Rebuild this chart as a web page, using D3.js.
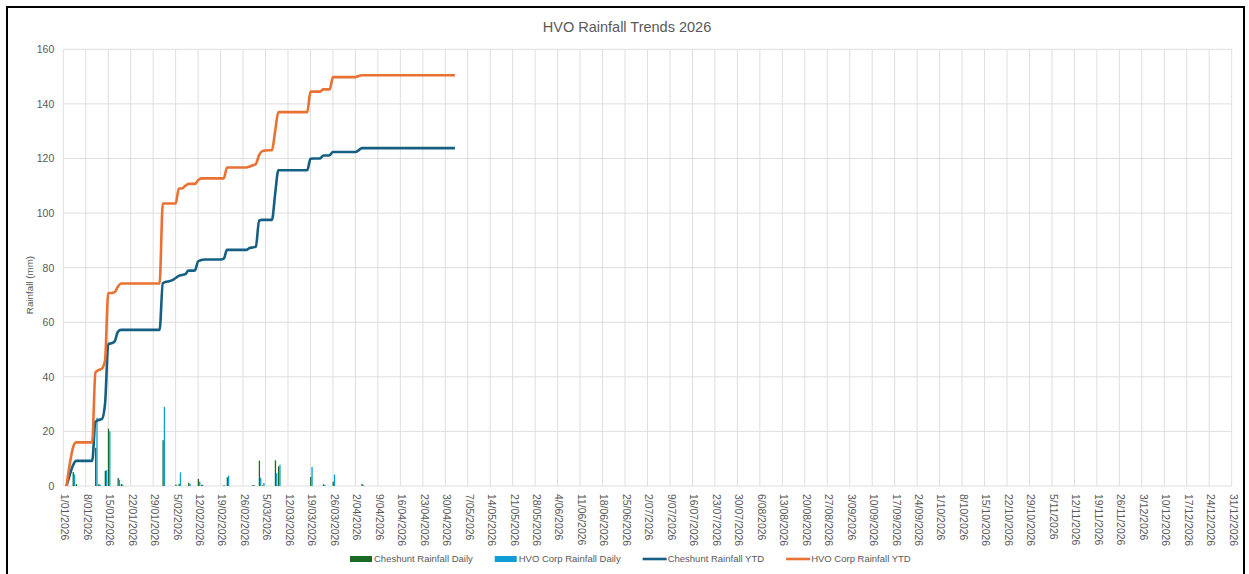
<!DOCTYPE html>
<html>
<head>
<meta charset="utf-8">
<title>HVO Rainfall Trends 2026</title>
<script src="https://cdn.jsdelivr.net/npm/d3@7"></script>
<style>
    body { margin: 0; background: #ffffff; }
    text { font-family: "Liberation Sans", Arial, sans-serif; fill: #595959; }
</style>
</head>
<body>
<div id="chart"></div>
<script>
// Series names (legend order)
const seriesNames = ["Cheshunt Rainfall Daily", "HVO Corp Rainfall Daily", "Cheshunt Rainfall YTD", "HVO Corp Rainfall YTD"];
const seriesColors = ["#196B24", "#0F9ED5", "#156082", "#E97132"];

// Axis range and y ticks
const axisStart = "2026-01-01";
const axisEnd = "2026-12-31";
const yTicks = [0, 20, 40, 60, 80, 100, 120, 140, 160];

// YTD series: one value per day, starting on 2/01/2026
const ytdStart = "2026-01-02";
const cheshuntYtd = [
    0, 4, 7.5, 9.2, 9.2, 9.2, 9.2, 9.2, 9.2, 23.5,
    24.2, 24.5, 30, 52, 52.3, 53, 56.5, 57.2, 57.2, 57.2,
    57.2, 57.2, 57.2, 57.2, 57.2, 57.2, 57.2, 57.2, 57.2, 57.2,
    74.3, 74.8, 75, 75.4, 76.2, 77, 77.3, 77.6, 78.9, 78.9,
    79, 82.3, 82.8, 83, 83, 83, 83, 83, 83, 83.3,
    86.5, 86.5, 86.5, 86.5, 86.5, 86.5, 86.5, 87.2, 87.4, 87.7,
    97.3, 97.5, 97.5, 97.5, 97.5, 107, 115.7, 115.7, 115.7, 115.7,
    115.7, 115.7, 115.7, 115.7, 115.7, 115.7, 119.9, 120, 120, 120,
    121.1, 121.1, 121.2, 122.4, 122.4, 122.4, 122.4, 122.4, 122.4, 122.4,
    122.4, 123, 123.8, 123.8, 123.8, 123.8, 123.8, 123.8, 123.8, 123.8,
    123.8, 123.8, 123.8, 123.8, 123.8, 123.8, 123.8, 123.8, 123.8, 123.8,
    123.8, 123.8, 123.8, 123.8, 123.8, 123.8, 123.8, 123.8, 123.8, 123.8,
    123.8, 123.8
];
const hvoYtd = [
    0, 8, 14, 16, 16, 16, 16, 16, 16, 41.5,
    42.5, 43, 46, 70.7, 70.7, 71, 73, 74.2, 74.2, 74.2,
    74.2, 74.2, 74.2, 74.2, 74.2, 74.2, 74.2, 74.2, 74.2, 74.2,
    103.5, 103.5, 103.5, 103.5, 103.5, 109, 109, 110, 110.7, 110.7,
    110.7, 112, 112.7, 112.7, 112.7, 112.7, 112.7, 112.7, 112.7, 112.7,
    116.7, 116.7, 116.7, 116.7, 116.7, 116.7, 116.7, 117, 117.5, 118,
    121.2, 122.7, 122.9, 123, 123, 130, 137, 137, 137, 137,
    137, 137, 137, 137, 137, 137, 144.5, 144.5, 144.5, 144.5,
    145.3, 145.3, 145.3, 149.8, 149.8, 149.8, 149.8, 149.8, 149.8, 149.8,
    149.8, 150.2, 150.5, 150.5, 150.5, 150.5, 150.5, 150.5, 150.5, 150.5,
    150.5, 150.5, 150.5, 150.5, 150.5, 150.5, 150.5, 150.5, 150.5, 150.5,
    150.5, 150.5, 150.5, 150.5, 150.5, 150.5, 150.5, 150.5, 150.5, 150.5,
    150.5, 150.5
];

// Daily rainfall (only the days with rain)
const rainDates = [
    "2026-01-04", "2026-01-05", "2026-01-11", "2026-01-12", "2026-01-14", "2026-01-15",
    "2026-01-18", "2026-01-19", "2026-02-01", "2026-02-05", "2026-02-06", "2026-02-09",
    "2026-02-12", "2026-02-13", "2026-02-20", "2026-02-21", "2026-03-01", "2026-03-03",
    "2026-03-04", "2026-03-08", "2026-03-09", "2026-03-19", "2026-03-23", "2026-03-26",
    "2026-04-04"
];
const cheshuntDaily = [5.1, 0.7, 14, 0.7, 5.6, 21, 2.9, 0.7, 16.8, 0.5, 0.8, 1.2, 2.6, 0.5, 0.3, 3.2, 0.4, 9.3, 0.2, 9.4, 7.2, 3.3, 0.6, 1.6, 0.8];
const hvoDaily = [4.3, 0, 25, 0.4, 5.8, 20, 2.3, 0.5, 29, 0, 5, 0.8, 1.6, 0.4, 0, 3.8, 0.3, 3, 1.1, 4.7, 7.8, 7, 0.4, 4.2, 0.3];

// Chart size and plot area
const width = 1249;
const height = 574;
const plot = { left: 63.3, right: 1231.7, top: 49.3, bottom: 486 };

const parseDate = d3.utcParse("%Y-%m-%d");
const formatTick = d3.utcFormat("%-d/%m/%Y");

const svg = d3.select("#chart").append("svg")
    .attr("width", width)
    .attr("height", height);

svg.append("rect")
    .attr("width", width)
    .attr("height", height)
    .attr("fill", "#ffffff");

// Scales
const x = d3.scaleUtc()
    .domain([parseDate(axisStart), parseDate(axisEnd)])
    .range([plot.left, plot.right]);

const y = d3.scaleLinear()
    .domain([yTicks[0], yTicks[yTicks.length - 1]])
    .range([plot.bottom, plot.top]);

// Weekly ticks from the first day of the axis
const xTicks = d3.utcDay.range(parseDate(axisStart), d3.utcDay.offset(parseDate(axisEnd), 1), 7);

// Gridlines
const grid = svg.append("g").attr("class", "grid");
grid.selectAll(".hgrid")
    .data(yTicks)
    .enter().append("line")
    .attr("x1", plot.left)
    .attr("x2", plot.right)
    .attr("y1", d => y(d))
    .attr("y2", d => y(d))
    .attr("stroke", "#dedede")
    .attr("stroke-width", 1);

grid.selectAll(".vgrid")
    .data(xTicks)
    .enter().append("line")
    .attr("x1", d => x(d))
    .attr("x2", d => x(d))
    .attr("y1", plot.top)
    .attr("y2", plot.bottom)
    .attr("stroke", "#dedede")
    .attr("stroke-width", 1);

// Y axis labels
svg.append("g")
    .attr("transform", `translate(${plot.left - 9},0)`)
    .call(d3.axisLeft(y).tickValues(yTicks).tickSize(0).tickPadding(0))
    .call(g => g.select(".domain").remove())
    .call(g => g.selectAll("text")
        .attr("fill", "#595959")
        .style("font-size", "10.5px")
        .style("font-family", "\"Liberation Sans\", Arial, sans-serif"));

// X axis labels, rotated to read top-to-bottom
svg.append("g")
    .selectAll("text")
    .data(xTicks)
    .enter().append("text")
    .attr("transform", d => `translate(${x(d) + 1.5},${plot.bottom + 8}) rotate(90)`)
    .attr("dy", "0.35em")
    .style("font-size", "10.4px")
    .style("text-anchor", "start")
    .text(d => formatTick(d));

// Daily bars: two thin columns per day
const inner = d3.scaleBand()
    .domain([0, 1])
    .range([-0.35, 2.25]);

const bars = svg.append("g");
[cheshuntDaily, hvoDaily].forEach((values, i) => {
    bars.selectAll(".bar" + i)
        .data(rainDates.map((d, j) => ({ date: parseDate(d), value: values[j] })).filter(d => d.value > 0))
        .enter().append("rect")
        .attr("x", d => x(d.date) + inner(i))
        .attr("width", inner.bandwidth())
        .attr("y", d => y(d.value))
        .attr("height", d => y(0) - y(d.value))
        .attr("fill", seriesColors[i]);
});

// YTD lines
const line = d3.line()
    .x(d => x(d.date))
    .y(d => y(d.value))
    .curve(d3.curveMonotoneX);

[cheshuntYtd, hvoYtd].forEach((values, i) => {
    const data = values.map((v, j) => ({ date: d3.utcDay.offset(parseDate(ytdStart), j), value: v }));
    svg.append("path")
        .datum(data)
        .attr("fill", "none")
        .attr("stroke", seriesColors[i + 2])
        .attr("stroke-width", 2.6)
        .attr("stroke-linejoin", "round")
        .attr("d", line);
});

// Title
svg.append("text")
    .attr("x", 627)
    .attr("y", 32)
    .style("text-anchor", "middle")
    .style("font-size", "14.5px")
    .text("HVO Rainfall Trends 2026");

// Y axis title
svg.append("text")
    .attr("transform", "translate(33,285) rotate(-90)")
    .style("text-anchor", "middle")
    .style("font-size", "9.8px")
    .text("Rainfall (mm)");

// Legend
const legend = svg.append("g").attr("transform", "translate(350,559)");
let lx = 0;
seriesNames.forEach((name, i) => {
    const item = legend.append("g").attr("transform", `translate(${lx},0)`);
    if (i < 2) {
        item.append("rect")
            .attr("x", 0).attr("y", -3)
            .attr("width", 22).attr("height", 6)
            .attr("fill", seriesColors[i]);
    } else {
        item.append("line")
            .attr("x1", 0).attr("x2", 24)
            .attr("y1", 0).attr("y2", 0)
            .attr("stroke", seriesColors[i])
            .attr("stroke-width", 2.6);
    }
    const label = item.append("text")
        .attr("x", i < 2 ? 24 : 25)
        .attr("dy", "0.35em")
        .style("font-size", "9.5px")
        .text(name);
    lx += (i < 2 ? 24 : 25) + label.node().getComputedTextLength() + 22;
});

// Outer frame
svg.append("rect")
    .attr("x", 7)
    .attr("y", 7)
    .attr("width", 1237)
    .attr("height", 590)
    .attr("fill", "none")
    .attr("stroke", "#000000")
    .attr("stroke-width", 2);
</script>
</body>
</html>
